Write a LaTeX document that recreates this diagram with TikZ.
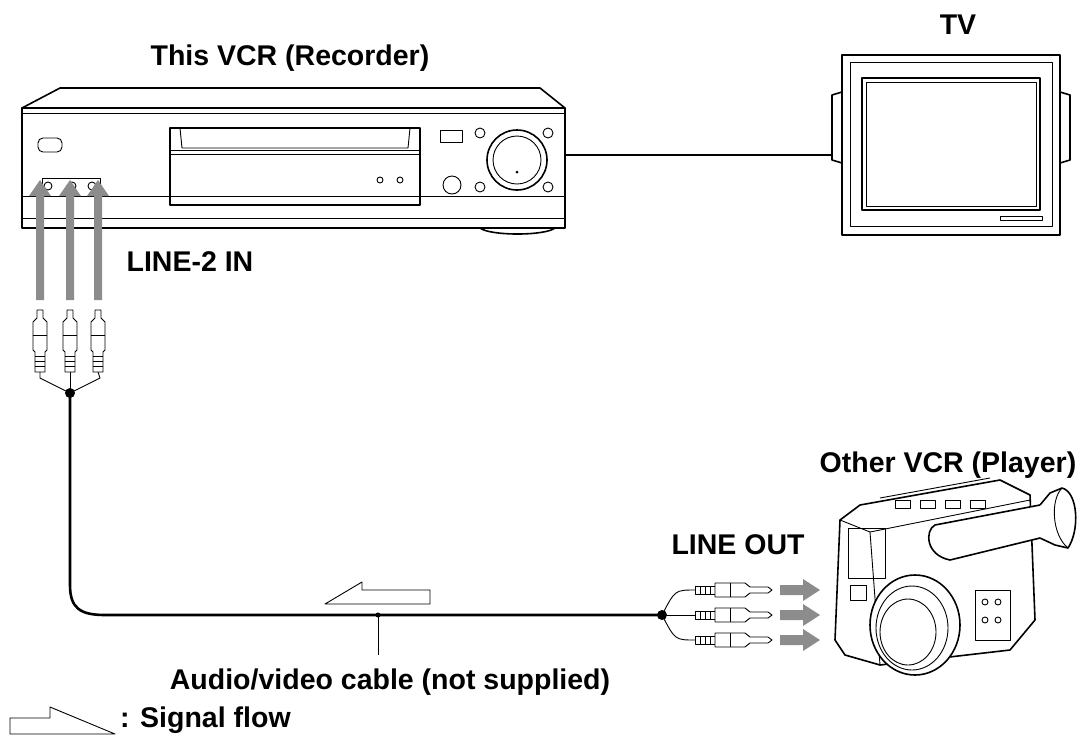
\documentclass[tikz,border=0pt]{standalone}
\usepackage{fontspec}
\setmainfont{Liberation Sans}
\begin{document}
\begin{tikzpicture}[x=1pt,y=-1pt,
  lbl/.style={font=\bfseries\fontsize{28.5}{30}\selectfont,inner sep=0pt},
  ln/.style={line width=1.6pt,line join=round},
  thin/.style={line width=0.9pt,line join=round},
  gar/.style={draw=none,fill=black!45},
  cable/.style={line width=2.6pt}]
\useasboundingbox (0,0) rectangle (1084,748);
% ---------- VCR ----------
\node[lbl] (vcrl) at (290,58) {This VCR (Recorder)};
\draw[ln,fill=white] (60,88) -- (540,88) -- (565,108) -- (22,108) -- cycle;
\draw[ln,fill=white] (22,108) rectangle (565,228);
\draw[thin] (22,113) -- (565,113);
\draw[thin] (22,196) -- (565,196);
\draw[thin] (22,218) -- (565,218);
\draw[ln] (480,228) .. controls (490,236) and (545,236) .. (555,228);
\draw[ln] (170,128) rectangle (420,205);
\draw[thin] (180,128) -- (182,148) -- (408,148) -- (410,128);
\draw[thin] (170,150) -- (420,150); \draw[thin] (170,154) -- (420,154);
\draw[thin] (380,180) circle (3); \draw[thin] (400,180) circle (3);
\draw[thin,rounded corners=5] (38,138) rectangle (62,152);
\draw[thin] (440,130) rectangle (462,142);
\draw[thin] (452,185) circle (9);
\draw[ln] (517,160) circle (30); \draw[thin] (517,160) circle (24);
\fill (517,172) circle (1.5);
\foreach \p in {(480,133),(548,133),(480,187),(548,187)} \draw[thin] \p circle (5);
\draw[thin] (42,178) rectangle (100,196);
\foreach \x in {48,72,92} \draw[thin] (\x,186) circle (4);
\node[lbl] (l2in) at (190,262) {LINE-2 IN};
% up arrows
\foreach \x in {40,70,98}{
  \fill[gar] (\x-4,300) -- (\x-4,196) -- (\x-11,196) -- (\x,180) -- (\x+11,196) -- (\x+4,196) -- (\x+4,300) -- cycle;
  \draw[thin,fill=white] (\x-3,310) -- (\x-3,318) -- (\x-7,322) -- (\x-7,350) -- (\x-5,352) -- (\x-5,372) -- (\x+5,372) -- (\x+5,352) -- (\x+7,350) -- (\x+7,322) -- (\x+3,318) -- (\x+3,310) -- cycle;
  \draw[thin] (\x-7,335) -- (\x+7,335);
  \foreach \yy in {356,361,366} \draw[thin] (\x-5,\yy) -- (\x+5,\yy);
}
\coordinate (j1) at (70,393);
\draw[thin] (40,372) -- (40,378) -- (j1) -- (100,378) -- (98,372);
\draw[thin] (70,372) -- (j1);
\fill (j1) circle (5);
% ---------- TV ----------
\node[lbl] (tvl) at (958,25) {TV};
\draw[ln,fill=white] (842,55) -- (1060,55) -- (1060,235) -- (842,235) -- cycle;
\draw[thin] (850,62) -- (1052,62) -- (1052,226) -- (850,226) -- cycle;
\draw[ln] (862,78) rectangle (1040,210);
\draw[thin] (866,82) rectangle (1036,206);
\draw[ln] (842,92) -- (832,95) -- (832,160) -- (842,163);
\draw[ln] (1060,92) -- (1070,95) -- (1070,160) -- (1060,163);
\draw[thin] (1000,216) rectangle (1042,220);
\coordinate (vcrR) at (565,155); \coordinate (tvL) at (832,155);
\draw[ln] (vcrR) -- (tvL);
% ---------- cable ----------
\coordinate (j2) at (662,615);
\draw[cable] (j1) -- (70,585) .. controls (70,608) and (80,615) .. (105,615) -- (j2);
\fill (j2) circle (5);
\foreach \y in {590,615,640}{
  \draw[thin] (j2) .. controls (675,\y) .. (695,\y);
  \draw[thin,fill=white] (695,\y-4) rectangle (715,\y+4);
  \foreach \xx in {700,705,710} \draw[thin] (\xx,\y-4) -- (\xx,\y+4);
  \draw[thin,fill=white] (715,\y-7) -- (745,\y-7) -- (750,\y-3) -- (768,\y-3) -- (772,\y) -- (768,\y+3) -- (750,\y+3) -- (745,\y+7) -- (715,\y+7) -- cycle;
  \draw[thin] (730,\y-7) -- (730,\y+7);
  \fill[gar] (780,\y-5) -- (803,\y-5) -- (803,\y-11) -- (820,\y) -- (803,\y+11) -- (803,\y+5) -- (780,\y+5) -- cycle;
}
% signal flow arrow on cable
\draw[thin,fill=white] (325,604) -- (362,582) -- (362,590) -- (430,590) -- (430,604) -- cycle;
\coordinate (cb) at (378,615);
\coordinate (cbl) at (378,655);
\draw[thin] (cb) -- (cbl);
\fill (cb) circle (2.5);
\node[lbl] (cablel) at (390,682) {Audio/video cable (not supplied)};
% legend
\draw[thin,fill=white] (10,718) -- (50,718) -- (50,707) -- (115,734) -- (10,734) -- cycle;
\node[lbl,anchor=west] (legl) at (120,720) {: Signal flow};
% ---------- camcorder ----------
\node[lbl] (ovl) at (948,465) {Other VCR (Player)};
\node[lbl] (lol) at (738,545) {LINE OUT};
\draw[ln,fill=white] (840,520) -- (860,505) -- (1000,480) -- (1030,495) -- (1035,620) -- (1010,650) -- (880,665) -- (845,655) -- (835,640) -- cycle;
\draw[thin] (840,520) -- (870,532) -- (1030,500);
\draw[thin] (870,532) -- (880,665);
\draw[thin] (848,528) rectangle (885,578);
\draw[thin] (850,585) rectangle (866,600);
\draw[ln,fill=white] (935,525) -- (1040,505) .. controls (1050,515) and (1048,530) .. (1040,538) -- (950,560) .. controls (925,555) and (925,530) .. (935,525);
\draw[ln,fill=white] (1040,505) -- (1050,493) -- (1062,488) .. controls (1078,492) and (1080,530) .. (1068,548) -- (1055,545) -- (1040,538);
\draw[thin] (1062,488) .. controls (1050,500) and (1052,535) .. (1068,548);
\draw[ln,fill=white] (915,625) ellipse (45 and 50);
\draw[thin] (912,628) ellipse (36 and 42);
\draw[thin] (908,632) ellipse (28 and 33);
\draw[thin] (975,590) rectangle (1010,640);
\foreach \p in {(985,602),(998,602),(985,620),(998,620)} \draw[thin] \p circle (3);
\draw[thin] (880,498) -- (990,478);
\foreach \x in {895,920,945,970} \draw[thin] (\x,500) rectangle (\x+15,508);
\end{tikzpicture}
\end{document}
